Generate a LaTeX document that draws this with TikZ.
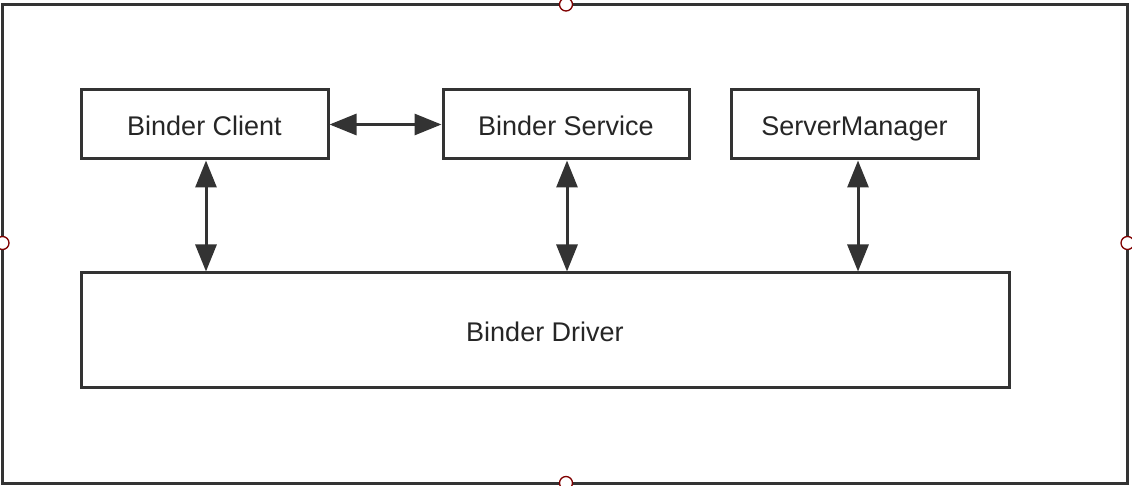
\documentclass[tikz,border=0pt]{standalone}
\usepackage{fontspec}
\setmainfont{Liberation Sans}
\usetikzlibrary{arrows.meta}
\begin{document}
\begin{tikzpicture}[x=1pt,y=-1pt,
  box/.style={draw=black!80,line width=3pt,fill=white,inner sep=0pt,text height=23pt,text depth=0pt,font=\fontsize{27}{32}\selectfont,text=black!85},
  link/.style={draw=black!80,line width=3pt,{Triangle[width=21pt,length=27pt]}-{Triangle[width=21pt,length=27pt]}},
  handle/.style={circle,draw=red!50!black,fill=white,line width=1.3pt,minimum size=13pt,inner sep=0pt}]
\useasboundingbox (0,0) rectangle (1132,486);
\draw[black!80,line width=3pt] (2.5,4.5) rectangle (1127.5,483);
\node[box,minimum width=247pt,minimum height=69pt] (client) at (204.5,124.5) {Binder Client};
\node[box,minimum width=246pt,minimum height=69pt] (service) at (566,124.5) {Binder Service};
\node[box,minimum width=247pt,minimum height=69pt] (sm) at (854.5,124.5) {ServerManager};
\node[box,minimum width=928pt,minimum height=114pt] (driver) at (545,330) {Binder Driver};
\draw[link] (client.east) -- (service.west);
\draw[link] (client.south -| 206,0) -- (driver.north -| 206,0);
\draw[link] (service.south -| 567,0) -- (driver.north -| 567,0);
\draw[link] (sm.south -| 858,0) -- (driver.north -| 858,0);
\node[handle] (h1) at (566,4.5) {};
\node[handle] (h2) at (566,483) {};
\node[handle] (h3) at (2.5,243) {};
\node[handle] (h4) at (1127.5,243) {};
\end{tikzpicture}
\end{document}
